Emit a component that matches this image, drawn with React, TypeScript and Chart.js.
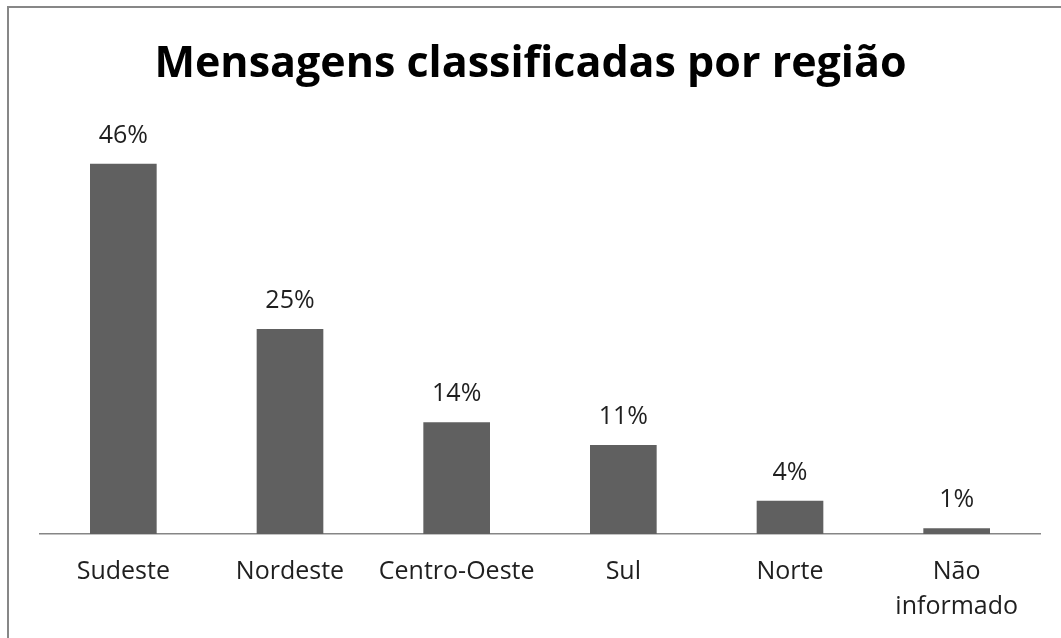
import React, { useEffect, useRef } from "react";
import { Chart, registerables } from "chart.js";

Chart.register(...registerables);

const TITLE = "Mensagens classificadas por região";
const categories: (string | string[])[] = ["Sudeste", "Nordeste", "Centro-Oeste", "Sul", "Norte", ["Não", "informado"]];
const values = [45.7, 25.3, 13.8, 11.0, 4.1, 0.7];
const valueLabels = ["46%", "25%", "14%", "11%", "4%", "1%"];

const FONT = "'Open Sans', 'DejaVu Sans', sans-serif";

export default function App() {
  const ref = useRef<HTMLCanvasElement | null>(null);
  useEffect(() => {
    if (!ref.current) return;
    const framePlugin = {
      id: "frame",
      beforeDraw(chart: any) {
        const ctx = chart.ctx;
        ctx.save();
        ctx.fillStyle = "#ffffff";
        ctx.fillRect(0, 0, chart.width, chart.height);
        ctx.fillStyle = "#878787";
        ctx.fillRect(7, 6, 2, chart.height - 6);
        ctx.fillRect(7, 6, chart.width - 7, 2);
        ctx.fillStyle = "#000000";
        ctx.font = `bold 43px ${FONT}`;
        ctx.textAlign = "center";
        ctx.textBaseline = "alphabetic";
        ctx.fillText(TITLE, chart.width / 2, 77);
        ctx.restore();
      },
    };
    const labelPlugin = {
      id: "valueLabels",
      afterDatasetsDraw(chart: any) {
        const ctx = chart.ctx;
        const meta = chart.getDatasetMeta(0);
        ctx.save();
        ctx.fillStyle = "#1f1f1f";
        ctx.font = `25px ${FONT}`;
        ctx.textAlign = "center";
        ctx.textBaseline = "alphabetic";
        meta.data.forEach((bar: any, i: number) => {
          ctx.fillText(valueLabels[i], bar.x, bar.y - 21);
        });
        ctx.restore();
      },
    };
    const chart = new Chart(ref.current, {
      type: "bar",
      data: {
        labels: categories,
        datasets: [
          {
            data: values,
            backgroundColor: "#606060",
            borderWidth: 0,
            barPercentage: 0.4,
            categoryPercentage: 1,
          },
        ],
      },
      options: {
        animation: false,
        responsive: false,
        maintainAspectRatio: false,
        layout: { padding: { left: 40, right: 21, top: 129, bottom: 16 } },
        plugins: {
          legend: { display: false },
          title: { display: false },
          tooltip: { enabled: false },
        },
        scales: {
          y: { display: false, min: 0, max: 50 },
          x: {
            afterFit: (scale: any) => {
              scale.height = 88;
            },
            grid: { display: false, drawTicks: false },
            border: { display: true, color: "#868686", width: 1.5 },
            ticks: {
              color: "#1f1f1f",
              font: { family: FONT, size: 25, lineHeight: 1.4 },
              padding: 20,
              maxRotation: 0,
              autoSkip: false,
            },
          },
        },
      },
      plugins: [framePlugin, labelPlugin],
    });
    return () => chart.destroy();
  }, []);
  return (
    <div style={{ position: "absolute", left: 0, top: 0, width: 1061, height: 638 }}>
      <canvas ref={ref} width={1061} height={638} style={{ display: "block", width: 1061, height: 638 }} />
    </div>
  );
}
